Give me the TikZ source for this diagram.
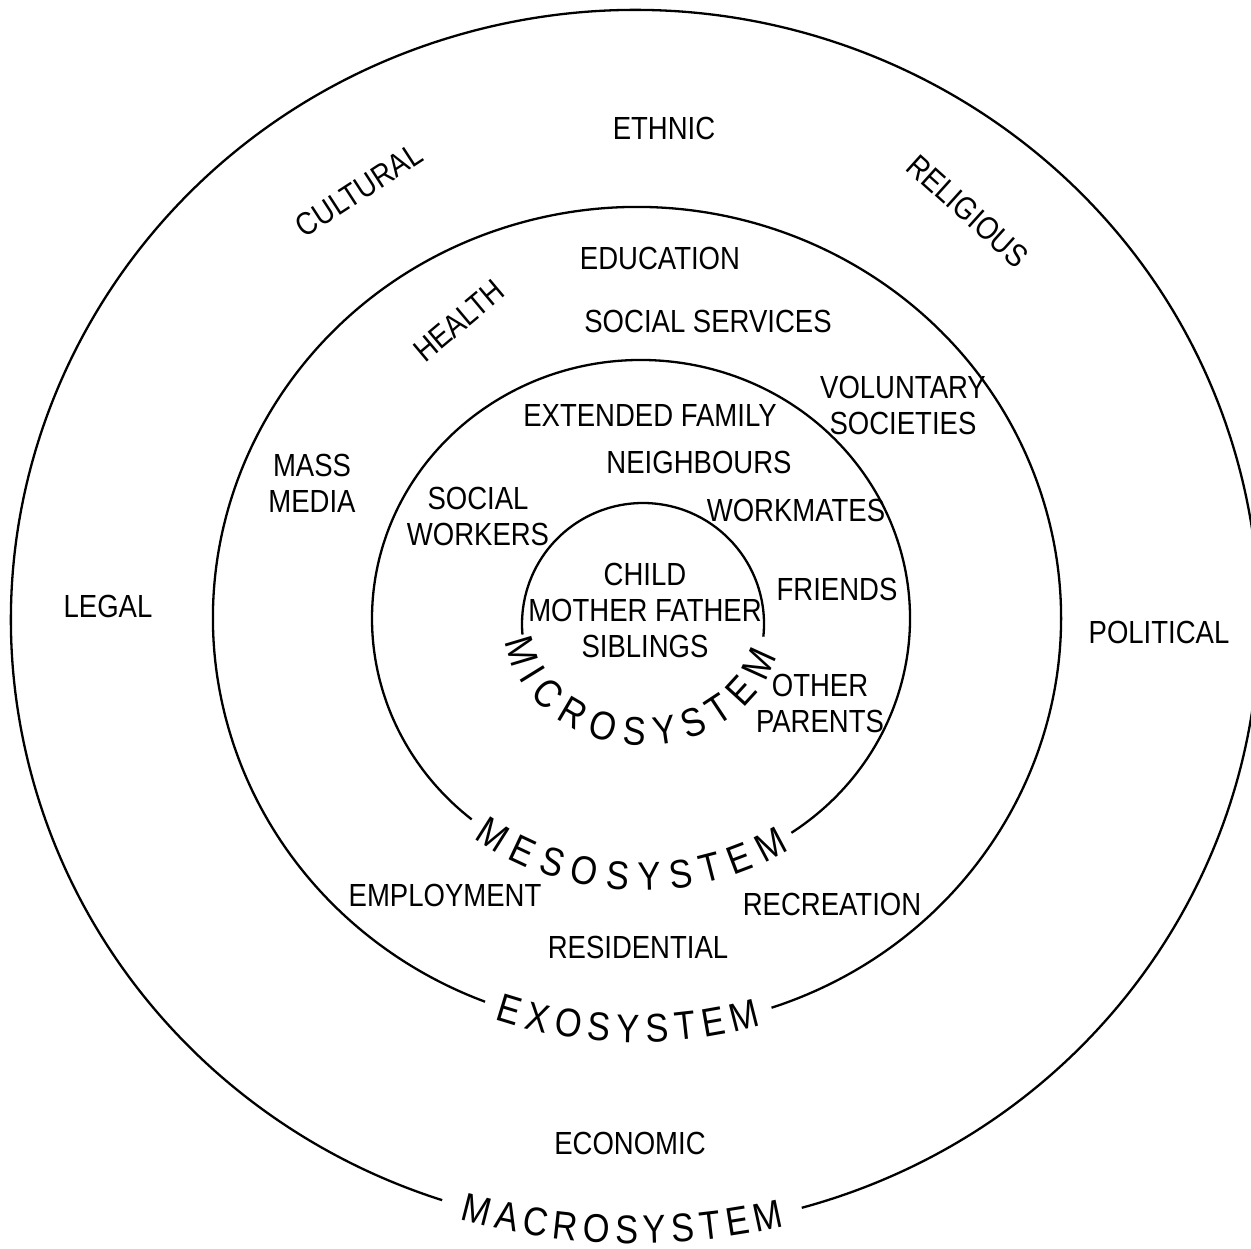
\documentclass[tikz,border=0pt]{standalone}
\usepackage{fontspec}
\setmainfont{Liberation Sans}[FakeStretch=0.86]
\usetikzlibrary{calc,decorations.text}
\newcommand\lblfont{\fontsize{32}{36}\selectfont}
\newcommand\ringfont{\fontsize{40}{44}\selectfont}
\begin{document}
\begin{tikzpicture}[x=1pt,y=-1pt,
  ring/.style={line width=2.3pt},
  lbl/.style={font=\lblfont, inner sep=0pt, align=center},
  ringlabel/.style={decorate, decoration={text along path, text align={fit to path},
      raise=-13.5pt, text={|\ringfont|#1}}}
]
\useasboundingbox (0,0) rectangle (1251,1249);

% centres of the four nested systems
\coordinate (macroC) at (635,620);
\coordinate (exoC) at (637,618);
\coordinate (mesoC) at (641,618.5);
\coordinate (microC) at (643,624);

% macrosystem ring, open at the bottom for its name
\draw[ring] ($(macroC)+(285.5:624pt and 610pt)$)
  arc[start angle=285.5, end angle=612, x radius=624pt, y radius=610pt];
\path[ringlabel=MACROSYSTEM] ($(macroC)+(254:624pt and 610pt)$)
  arc[start angle=254, end angle=283.6, x radius=624pt, y radius=610pt];

% exosystem ring
\draw[ring] ($(exoC)+(288.5:424pt and 411pt)$)
  arc[start angle=288.5, end angle=609, x radius=424pt, y radius=411pt];
\path[ringlabel=EXOSYSTEM] ($(exoC)+(251:424pt and 411pt)$)
  arc[start angle=251, end angle=286.6, x radius=424pt, y radius=411pt];

% mesosystem ring
\draw[ring] ($(mesoC)+(304:269pt and 258.5pt)$)
  arc[start angle=304, end angle=591, x radius=269pt, y radius=258.5pt];
\path[ringlabel=MESOSYSTEM] ($(mesoC)+(233.5:269pt and 258.5pt)$)
  arc[start angle=233.5, end angle=302, x radius=269pt, y radius=258.5pt];

% microsystem ring
\draw[ring] ($(microC)+(-6:121pt)$)
  arc[start angle=-6, end angle=185, radius=121pt];
\path[ringlabel=MICROSYSTEM] ($(microC)+(187:125pt and 108pt)$)
  arc[start angle=187, end angle=346, x radius=125pt, y radius=108pt];

% macrosystem
\node[lbl] (ethnic) at (664,128) {ETHNIC};
\node[lbl, rotate=33] (cultural) at (359,190) {CULTURAL};
\node[lbl, rotate=-42] (religious) at (968,211) {RELIGIOUS};
\node[lbl] (legal) at (108,606) {LEGAL};
\node[lbl] (political) at (1159,632) {POLITICAL};
\node[lbl] (economic) at (630,1143) {ECONOMIC};

% exosystem
\node[lbl] (education) at (660,258) {EDUCATION};
\node[lbl, rotate=40] (health) at (459,321) {HEALTH};
\node[lbl] (socserv) at (708,321) {SOCIAL SERVICES};
\node[lbl] (voluntary) at (903,405) {VOLUNTARY\\SOCIETIES};
\node[lbl] (massmedia) at (312,483) {MASS\\MEDIA};
\node[lbl] (employment) at (445,895) {EMPLOYMENT};
\node[lbl] (recreation) at (832,904) {RECREATION};
\node[lbl] (residential) at (638,947) {RESIDENTIAL};

% mesosystem
\node[lbl] (extfamily) at (650,415) {EXTENDED FAMILY};
\node[lbl] (neighbours) at (699,462) {NEIGHBOURS};
\node[lbl] (socworkers) at (478,516) {SOCIAL\\WORKERS};
\node[lbl] (workmates) at (796,510) {WORKMATES};
\node[lbl] (friends) at (837,589) {FRIENDS};
\node[lbl] (otherparents) at (820,703) {OTHER\\PARENTS};

% microsystem
\node[lbl] (family) at (645,610) {CHILD\\MOTHER FATHER\\SIBLINGS};
\end{tikzpicture}
\end{document}
